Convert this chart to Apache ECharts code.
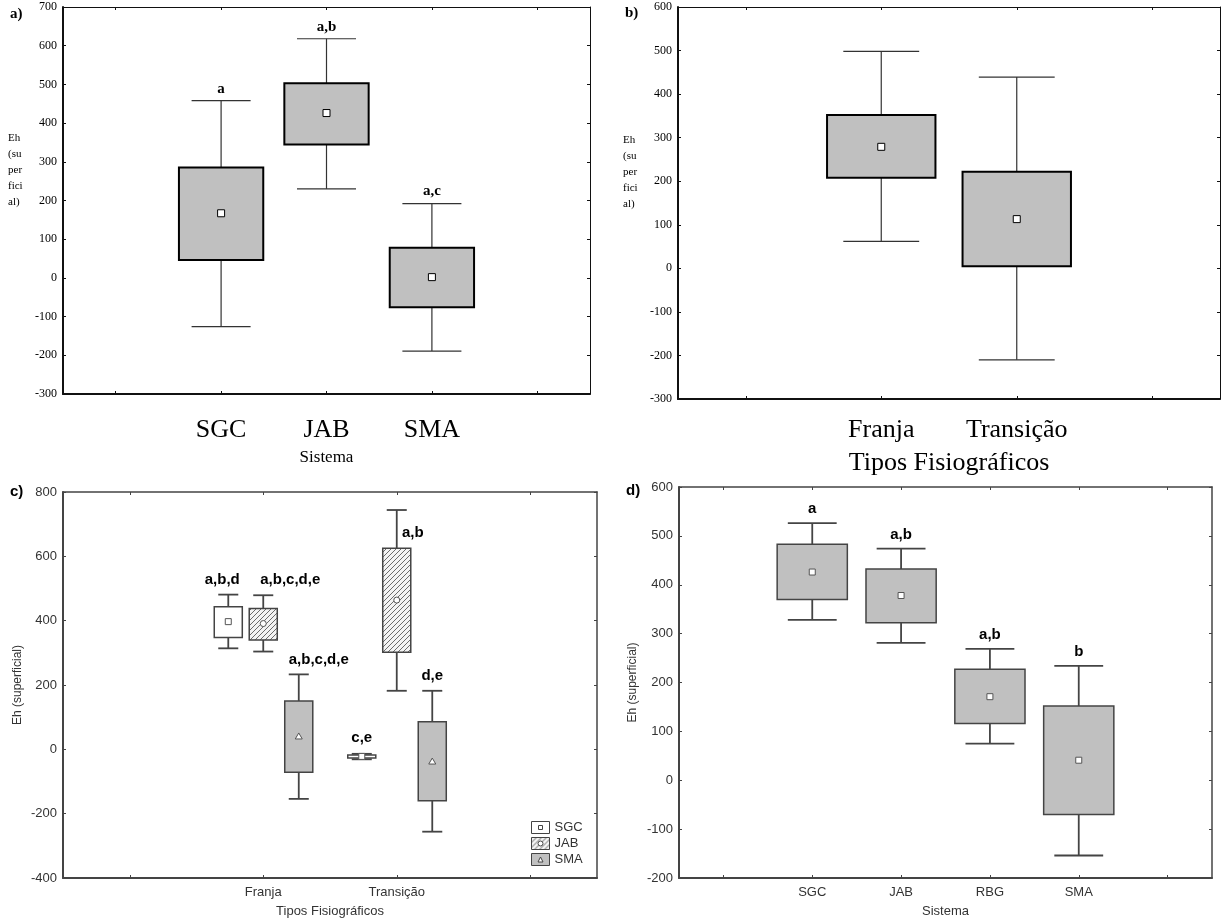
<!DOCTYPE html>
<html>
<head>
<meta charset="utf-8">
<title>Eh superficial</title>
<script src="https://cdn.jsdelivr.net/npm/echarts@6/dist/echarts.min.js"></script>
<style>
  html, body { margin: 0; padding: 0; background: #fff; }
  #chart { width: 1222px; height: 923px; }
</style>
</head>
<body>
<div id="chart"></div>
<script>
// each row: [lower whisker, box bottom, mean, box top, upper whisker]

// a) Sistema
const sistemaA = ['SGC', 'JAB', 'SMA'];
const ehA = [
  [-126, 46, 167, 285, 458],
  [230, 345, 426, 503, 618],
  [-189, -76, 2, 78, 192]
];
const letrasA = ['a', 'a,b', 'a,c'];
const yTicksA = [-300, -200, -100, 0, 100, 200, 300, 400, 500, 600, 700];

// b) Tipos fisiográficos
const tiposB = ['Franja', 'Transição'];
const ehB = [
  [62, 208, 279, 352, 498],
  [-210, 5, 113, 222, 439]
];
const yTicksB = [-300, -200, -100, 0, 100, 200, 300, 400, 500, 600];

// c) Tipos fisiográficos x sistema
const tiposC = ['Franja', 'Transição'];
const ehSGC_C = [[314, 348, 397, 443, 481], [-31, -27, -22, -18, -14]];
const ehJAB_C = [[304, 340, 391, 438, 479], [182, 302, 464, 625, 744]];
const ehSMA_C = [[-154, -71, 40, 150, 233], [-256, -160, -38, 86, 182]];
const letrasSGC_C = ['a,b,d', 'c,e'];
const letrasJAB_C = ['a,b,c,d,e', 'a,b'];
const letrasSMA_C = ['a,b,c,d,e', 'd,e'];
const yTicksC = [-400, -200, 0, 200, 400, 600, 800];

// d) Sistema
const sistemaD = ['SGC', 'JAB', 'RBG', 'SMA'];
const ehD = [
  [328, 370, 426, 483, 526],
  [281, 322, 378, 432, 474],
  [75, 116, 171, 227, 269],
  [-154, -70, 41, 152, 234]
];
const letrasD = ['a', 'a,b', 'a,b', 'b'];
const yTicksD = [-200, -100, 0, 100, 200, 300, 400, 500, 600];

const serif = "'Liberation Serif', 'Times New Roman', serif";
const sans = "'Liberation Sans', Arial, sans-serif";

function hatch() {
  const c = document.createElement('canvas');
  c.width = 5; c.height = 5;
  const g = c.getContext('2d');
  g.fillStyle = '#f3f3f3';
  g.fillRect(0, 0, 5, 5);
  g.strokeStyle = '#6b6b6b';
  g.lineWidth = 1;
  g.beginPath();
  g.moveTo(0, 5); g.lineTo(5, 0);
  g.moveTo(-1, 1); g.lineTo(1, -1);
  g.moveTo(4, 6); g.lineTo(6, 4);
  g.stroke();
  return { image: c, repeat: 'repeat' };
}
const hatchFill = hatch();

function marker(kind, x, y, st) {
  const s = { fill: '#fff', stroke: st.markerStroke, lineWidth: 1 };
  if (kind === 'circle') {
    return { type: 'circle', shape: { cx: x, cy: y, r: 3 }, style: s };
  }
  if (kind === 'triangle') {
    return { type: 'polygon', shape: { points: [[x, y - 3.5], [x - 3.5, y + 2.5], [x + 3.5, y + 2.5]] }, style: s };
  }
  const h = st.markerSize / 2;
  return { type: 'rect', shape: { x: x - h, y: y - h, width: 2 * h, height: 2 * h }, style: s };
}

function makeRender(st) {
  return function (params, api) {
    const cat = api.value(0);
    const band = api.size([1, 0])[0];
    const cx = api.coord([cat, 0])[0] + (st.shift || 0) * band;
    const yLo = api.coord([cat, api.value(1)])[1];
    const yQ1 = api.coord([cat, api.value(2)])[1];
    const yMean = api.coord([cat, api.value(3)])[1];
    const yQ3 = api.coord([cat, api.value(4)])[1];
    const yHi = api.coord([cat, api.value(5)])[1];
    const bw = st.box * band;
    const cw = st.cap * band;
    const line = { stroke: st.whisker, lineWidth: st.whiskerWidth };
    const kids = [
      { type: 'line', shape: { x1: cx, y1: yHi, x2: cx, y2: yLo }, style: line },
      { type: 'line', shape: { x1: cx - cw / 2, y1: yHi, x2: cx + cw / 2, y2: yHi }, style: line },
      { type: 'line', shape: { x1: cx - cw / 2, y1: yLo, x2: cx + cw / 2, y2: yLo }, style: line },
      {
        type: 'rect',
        shape: { x: cx - bw / 2, y: yQ3, width: bw, height: yQ1 - yQ3 },
        style: { fill: st.fill, stroke: st.stroke, lineWidth: st.strokeWidth }
      },
      marker(st.marker, cx, yMean, st)
    ];
    const txt = st.labels && st.labels[params.dataIndex];
    if (txt) {
      const sh = st.labelShift ? st.labelShift[params.dataIndex] : [0, st.labelGap];
      kids.push({
        type: 'text',
        x: cx + sh[0],
        y: yHi - sh[1],
        style: { text: txt, font: st.labelFont, fill: '#000', align: 'center', verticalAlign: 'middle' }
      });
    }
    return { type: 'group', children: kids };
  };
}

function rows(list) {
  return list.map(function (r, i) { return [i + 1].concat(r); });
}

const styleAB = {
  box: 0.8, cap: 0.56, fill: '#c0c0c0', stroke: '#000', strokeWidth: 2,
  whisker: '#333', whiskerWidth: 1.2, marker: 'square', markerSize: 7, markerStroke: '#000',
  labelFont: 'bold 15px ' + serif, labelGap: 12
};
const styleCD = {
  box: 0.21, cap: 0.15, fill: '#c0c0c0', stroke: '#444', strokeWidth: 1.5,
  whisker: '#444', whiskerWidth: 1.8, marker: 'square', markerSize: 6, markerStroke: '#555',
  labelFont: 'bold 15px ' + sans, labelGap: 15
};

const frameAB = {
  axis: '#111', font: serif, labelColor: '#000', tickSize: 12, catSize: 26
};
const frameCD = {
  axis: '#444', font: sans, labelColor: '#333', tickSize: 13, catSize: 13
};

const xAxes = [];
const yAxes = [];
function addAxes(gi, cats, ticks, fr, opt) {
  const catData = [''].concat(cats, ['']);
  xAxes.push({
    gridIndex: gi, type: 'category', data: catData, position: 'bottom', boundaryGap: true,
    axisLine: { show: true, onZero: false, lineStyle: { color: fr.axis, width: 2 } },
    axisTick: { show: true, inside: true, alignWithLabel: true, interval: 0, length: 3, lineStyle: { color: fr.axis } },
    axisLabel: { interval: 0, margin: opt.catMargin, fontFamily: fr.font, fontSize: opt.catSize || fr.catSize, color: fr.labelColor },
    name: opt.xName, nameLocation: 'middle', nameGap: opt.xNameGap,
    nameTextStyle: { fontFamily: fr.font, fontSize: opt.xNameSize, color: fr.labelColor }
  });
  xAxes.push({
    gridIndex: gi, type: 'category', data: catData, position: 'top', boundaryGap: true,
    axisLine: { show: true, onZero: false, lineStyle: { color: fr.axis, width: opt.topWidth } },
    axisTick: { show: true, inside: true, alignWithLabel: true, interval: 0, length: 3, lineStyle: { color: fr.axis } },
    axisLabel: { show: false }
  });
  const base = {
    gridIndex: gi, type: 'value', min: ticks[0], max: ticks[ticks.length - 1], interval: ticks[1] - ticks[0],
    splitLine: { show: false }
  };
  yAxes.push(Object.assign({}, base, {
    position: 'left',
    axisLine: { show: true, onZero: false, lineStyle: { color: fr.axis, width: 2 } },
    axisTick: { show: true, inside: true, length: 3, lineStyle: { color: fr.axis } },
    axisLabel: { margin: 6, fontFamily: fr.font, fontSize: fr.tickSize, color: fr.labelColor },
    name: opt.yName, nameLocation: 'middle', nameGap: opt.yNameGap,
    nameTextStyle: { fontFamily: fr.font, fontSize: 12, color: fr.labelColor }
  }));
  yAxes.push(Object.assign({}, base, {
    position: 'right',
    axisLine: { show: true, onZero: false, lineStyle: { color: fr.axis, width: opt.topWidth } },
    axisTick: { show: true, inside: true, length: 3, lineStyle: { color: fr.axis } },
    axisLabel: { show: false }
  }));
}

addAxes(0, sistemaA, yTicksA, frameAB, {
  catMargin: 23, xName: 'Sistema', xNameGap: 55, xNameSize: 17, topWidth: 1
});
addAxes(1, tiposB, yTicksB, frameAB, {
  catMargin: 18, xName: 'Tipos Fisiográficos', xNameGap: 51, xNameSize: 26, topWidth: 1
});
addAxes(2, tiposC, yTicksC, frameCD, {
  catMargin: 8, xName: 'Tipos Fisiográficos', xNameGap: 27, xNameSize: 13, topWidth: 1.5,
  yName: 'Eh (superficial)', yNameGap: 39
});
addAxes(3, sistemaD, yTicksD, frameCD, {
  catMargin: 8, xName: 'Sistema', xNameGap: 27, xNameSize: 13, topWidth: 1.5,
  yName: 'Eh (superficial)', yNameGap: 40
});

function boxSeries(name, gi, data, st) {
  return {
    name: name, type: 'custom', xAxisIndex: 2 * gi, yAxisIndex: 2 * gi,
    encode: { x: 0, y: [1, 2, 3, 4, 5] },
    itemStyle: { color: st.fill === hatchFill ? '#ddd' : st.fill },
    renderItem: makeRender(st),
    data: rows(data)
  };
}

const series = [
  boxSeries('Eh a', 0, ehA, Object.assign({}, styleAB, { labels: letrasA })),
  boxSeries('Eh b', 1, ehB, styleAB),
  boxSeries('SGC', 2, ehSGC_C, Object.assign({}, styleCD, {
    shift: -0.262, fill: '#fff', labels: letrasSGC_C, labelShift: [[-6, 15], [0, 16]]
  })),
  boxSeries('JAB', 2, ehJAB_C, Object.assign({}, styleCD, {
    shift: 0, fill: hatchFill, marker: 'circle', labels: letrasJAB_C, labelShift: [[27, 15], [16, -23]]
  })),
  boxSeries('SMA', 2, ehSMA_C, Object.assign({}, styleCD, {
    shift: 0.266, marker: 'triangle', labels: letrasSMA_C, labelShift: [[20, 15], [0, 15]]
  })),
  boxSeries('Eh d', 3, ehD, Object.assign({}, styleCD, {
    box: 0.79, cap: 0.55, labels: letrasD, labelGap: 14
  }))
];

function panelText(txt, x, y, font) {
  return { type: 'text', left: x, top: y, style: { text: txt, font: font, fill: '#000' } };
}
function stackedName(x, y) {
  return {
    type: 'text', left: x, top: y,
    style: { text: 'Eh\n(su\nper\nfici\nal)', font: '11px ' + serif, lineHeight: 16, fill: '#000' }
  };
}

const chart = echarts.init(document.getElementById('chart'), null, { renderer: 'canvas' });
chart.setOption({
  animation: false,
  backgroundColor: '#fff',
  grid: [
    { left: 63, top: 7, width: 527, height: 387, outerBoundsMode: 'none' },
    { left: 678, top: 7, width: 542, height: 392, outerBoundsMode: 'none' },
    { left: 63, top: 492, width: 534, height: 386, outerBoundsMode: 'none' },
    { left: 679, top: 487, width: 533, height: 391, outerBoundsMode: 'none' }
  ],
  xAxis: xAxes,
  yAxis: yAxes,
  legend: {
    left: 531, top: 821, orient: 'vertical', padding: 0, itemWidth: 18, itemHeight: 12, itemGap: 3,
    selectedMode: false,
    textStyle: { fontFamily: sans, fontSize: 13, color: '#333' },
    data: [
      { name: 'SGC', icon: 'path://M0,0H18V12H0Z M7,4V8H11V4Z',
        itemStyle: { color: '#fff', borderColor: '#444', borderWidth: 1 } },
      { name: 'JAB', icon: 'path://M0,0H18V12H0Z M9,3.5A2.5,2.5 0 1,0 9,8.5A2.5,2.5 0 1,0 9,3.5Z',
        itemStyle: { color: hatchFill, borderColor: '#444', borderWidth: 1 } },
      { name: 'SMA', icon: 'path://M0,0H18V12H0Z M9,3.5L6.5,8.5H11.5Z',
        itemStyle: { color: '#c0c0c0', borderColor: '#444', borderWidth: 1 } }
    ]
  },
  graphic: [
    panelText('a)', 10, 7, 'bold 15px ' + serif),
    panelText('b)', 625, 6, 'bold 15px ' + serif),
    panelText('c)', 10, 484, 'bold 15px ' + sans),
    panelText('d)', 626, 483, 'bold 15px ' + sans),
    stackedName(8, 130),
    stackedName(623, 132)
  ],
  series: series
});
</script>
</body>
</html>
